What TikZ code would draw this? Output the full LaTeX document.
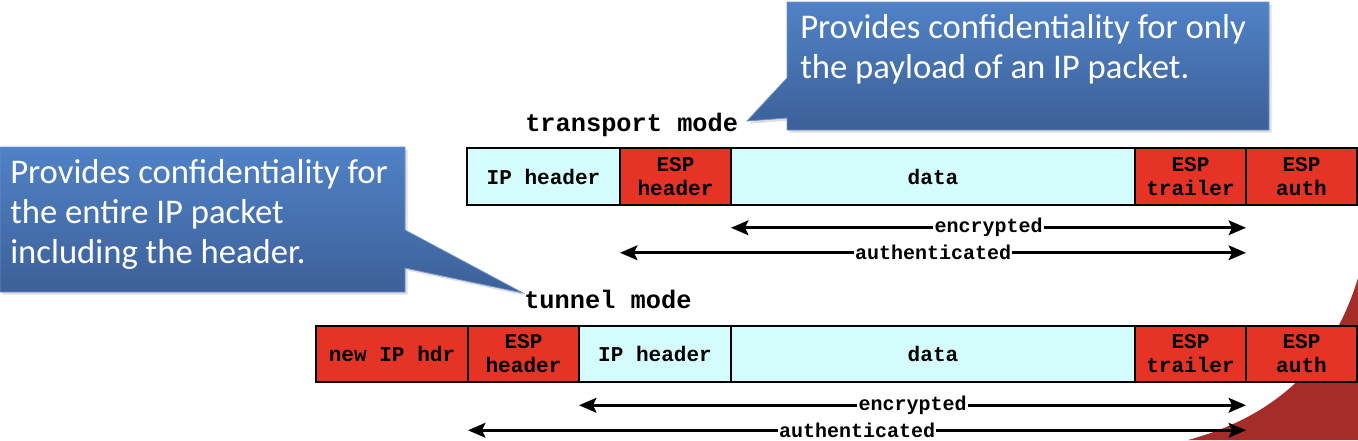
\documentclass[tikz,border=0pt]{standalone}
\usepackage{fontspec}
\setmainfont{Carlito}
\setmonofont{Liberation Mono}
\usetikzlibrary{positioning,arrows.meta,shadows}

\definecolor{ipcyan}{RGB}{213,252,252}
\definecolor{espred}{RGB}{229,51,37}
\definecolor{noteblue}{RGB}{80,130,198}
\definecolor{notedark}{RGB}{60,96,152}
\definecolor{noteedge}{RGB}{110,145,200}
\definecolor{slidered}{RGB}{166,44,42}

\tikzset{
  cell/.style={draw=black, line width=1.2pt, minimum height=42.4pt, inner sep=0pt, outer sep=0pt,
    align=center, font=\ttfamily\bfseries\fontsize{15.8}{18}\selectfont},
  cellw/.style={minimum width=#1*0.75pt},
  hdr/.style={cell, fill=ipcyan},
  esp/.style={cell, fill=espred},
  modelbl/.style={anchor=west, inner sep=0pt, font=\ttfamily\bfseries\fontsize{19}{22}\selectfont},
  spanarrow/.style={>={Stealth[length=13pt,width=11pt,inset=2.5pt]}, <->, line width=2.2pt},
  spanlbl/.style={fill=white, inner sep=1pt, font=\ttfamily\bfseries\fontsize{15}{16}\selectfont},
  note/.style={top color=noteblue, bottom color=notedark, draw=noteedge, line width=0.6pt,
    drop shadow={opacity=0.25, shadow xshift=2pt, shadow yshift=-2pt}},
  notetext/.style={anchor=north west, inner sep=0pt, align=left, text=white,
    font=\fontsize{26}{30}\selectfont}
}

\begin{document}
\begin{tikzpicture}[x=0.75pt, y=-0.75pt]
    \useasboundingbox (0,0) rectangle (1358,440);
    \fill[slidered] (1358,278) .. controls (1333,360) and (1280,415) .. (1188,440) -- (1358,440) -- cycle;

    \node[modelbl] (trmode) at (525,125) {transport mode};
    \node[hdr, cellw=153, anchor=west] (iph1) at (467,176.5) {IP header};
    \node[esp, cellw=111, right=0pt of iph1] (esph1) {ESP\\header};
    \node[hdr, cellw=404, right=0pt of esph1] (data1) {data};
    \node[esp, cellw=111, right=0pt of data1] (trl1) {ESP\\trailer};
    \node[esp, cellw=111, right=0pt of trl1] (auth1) {ESP\\auth};

    \draw[spanarrow] ([yshift=-17.25pt]data1.south west) -- node[spanlbl] {encrypted} ([yshift=-17.25pt]trl1.south east);
    \draw[spanarrow] ([yshift=-36pt]esph1.south west) -- node[spanlbl] {authenticated} ([yshift=-36pt]trl1.south east);

    \node[modelbl] (tnmode) at (524,299) {tunnel mode};
    \node[esp, cellw=152, anchor=west] (newip2) at (316,354) {new IP hdr};
    \node[esp, cellw=111, right=0pt of newip2] (esph2) {ESP\\header};
    \node[hdr, cellw=152, right=0pt of esph2] (iph2) {IP header};
    \node[hdr, cellw=404, right=0pt of iph2] (data2) {data};
    \node[esp, cellw=111, right=0pt of data2] (trl2) {ESP\\trailer};
    \node[esp, cellw=111, right=0pt of trl2] (auth2) {ESP\\auth};

    \draw[spanarrow] ([yshift=-17.25pt]iph2.south west) -- node[spanlbl] {encrypted} ([yshift=-17.25pt]trl2.south east);
    \draw[spanarrow] ([yshift=-36pt]esph2.south west) -- node[spanlbl] {authenticated} ([yshift=-36pt]trl2.south east);

    \path[note] (787,2) -- (1269,2) -- (1269,130) -- (787,130) -- (787,118) -- (747,121) -- (787,78) -- cycle;
    \node[notetext] (trnote) at (800,14) {Provides confidentiality for only\\the payload of an IP packet.};

    \path[note] (0,147) -- (405,147) -- (405,230) -- (523,293) -- (405,268) -- (405,292) -- (0,292) -- cycle;
    \node[notetext] (tnnote) at (10,159) {Provides confidentiality for\\the entire IP packet\\including the header.};
\end{tikzpicture}
\end{document}
